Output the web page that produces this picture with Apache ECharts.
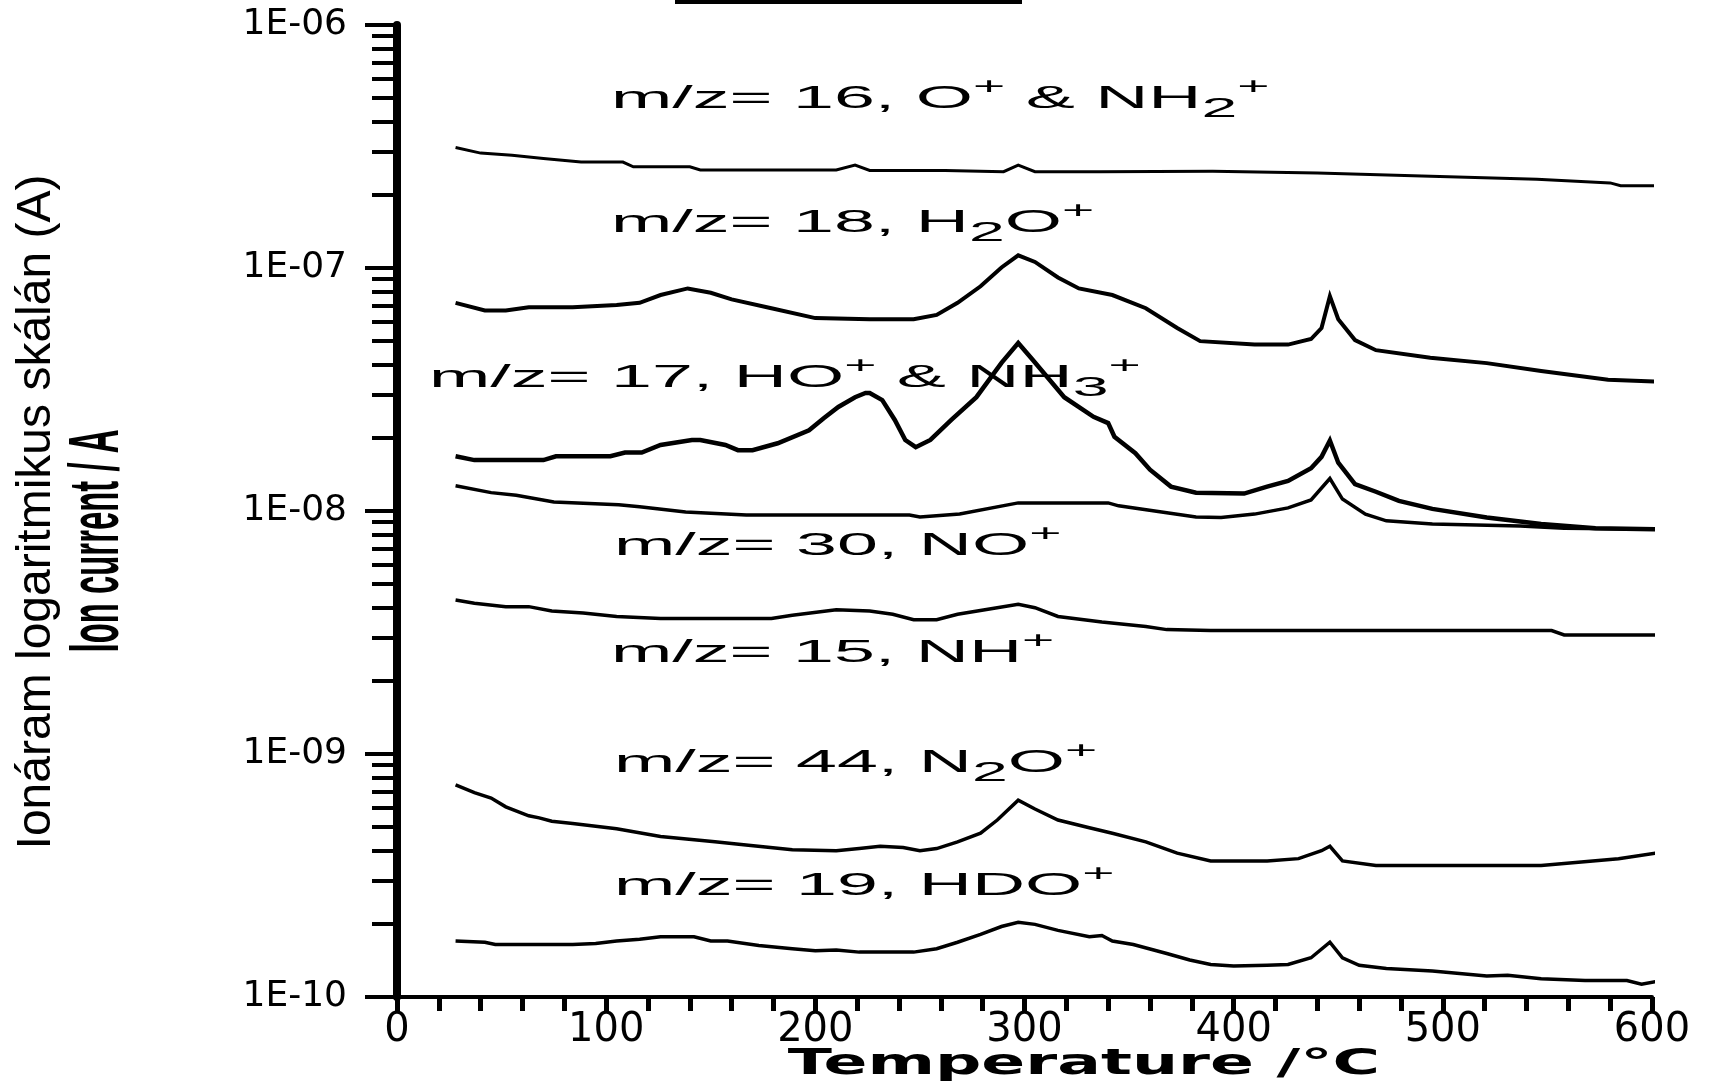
<!DOCTYPE html>
<html><head><meta charset="utf-8">
<script src="https://cdn.jsdelivr.net/npm/echarts@6/dist/echarts.min.js"></script>
<style>html,body{margin:0;padding:0;background:#fff}#c{width:1726px;height:1082px}</style>
</head><body><div id="c"></div>
<script>
// ---- data (temperature in °C, ion current in A) ----
const T16 = [28, 40, 55, 70, 88, 108, 113, 140, 145, 210, 219, 226, 262, 290, 297, 305, 336, 390, 440, 490, 545, 580, 585, 605];
const I16 = [3.13e-7, 2.97e-7, 2.91e-7, 2.82e-7, 2.73e-7, 2.73e-7, 2.61e-7, 2.61e-7, 2.53e-7, 2.53e-7, 2.65e-7, 2.52e-7, 2.52e-7, 2.49e-7, 2.65e-7, 2.49e-7, 2.49e-7, 2.50e-7, 2.46e-7, 2.39e-7, 2.32e-7, 2.24e-7, 2.18e-7, 2.18e-7];

const T18 = [28, 42, 52, 63, 84, 105, 116, 126, 139, 150, 160, 179, 200, 226, 247, 258, 268, 279, 289, 297, 305, 316, 326, 342, 358, 373, 384, 410, 426, 437, 442, 446, 450, 458, 468, 494, 521, 547, 579, 605];
const I18 = [7.19e-8, 6.69e-8, 6.69e-8, 6.90e-8, 6.90e-8, 7.05e-8, 7.19e-8, 7.74e-8, 8.24e-8, 7.91e-8, 7.43e-8, 6.83e-8, 6.22e-8, 6.15e-8, 6.15e-8, 6.41e-8, 7.19e-8, 8.41e-8, 1.005e-7, 1.127e-7, 1.059e-7, 9.14e-8, 8.24e-8, 7.74e-8, 6.83e-8, 5.66e-8, 5.00e-8, 4.84e-8, 4.84e-8, 5.10e-8, 5.66e-8, 7.66e-8, 6.15e-8, 5.05e-8, 4.59e-8, 4.27e-8, 4.06e-8, 3.77e-8, 3.47e-8, 3.40e-8];

const T17 = [28, 37, 70, 76, 102, 109, 117, 126, 141, 145, 157, 163, 170, 182, 197, 204, 211, 219, 224, 226, 232, 238, 243, 248, 255, 265, 277, 289, 297, 304, 319, 333, 340, 343, 353, 360, 370, 382, 405, 416, 426, 437, 442, 446, 450, 458, 468, 479, 495, 521, 547, 573, 605];
const I17 = [1.68e-8, 1.62e-8, 1.62e-8, 1.68e-8, 1.68e-8, 1.74e-8, 1.74e-8, 1.87e-8, 1.96e-8, 1.96e-8, 1.87e-8, 1.78e-8, 1.78e-8, 1.90e-8, 2.15e-8, 2.41e-8, 2.68e-8, 2.94e-8, 3.06e-8, 3.06e-8, 2.86e-8, 2.37e-8, 1.96e-8, 1.83e-8, 1.96e-8, 2.37e-8, 2.94e-8, 4.07e-8, 4.91e-8, 4.18e-8, 2.94e-8, 2.44e-8, 2.30e-8, 2.02e-8, 1.73e-8, 1.48e-8, 1.26e-8, 1.19e-8, 1.18e-8, 1.26e-8, 1.33e-8, 1.50e-8, 1.67e-8, 1.95e-8, 1.58e-8, 1.29e-8, 1.20e-8, 1.10e-8, 1.02e-8, 9.41e-9, 8.85e-9, 8.49e-9, 8.40e-9];

const T30 = [28, 45, 57, 75, 106, 116, 138, 167, 245, 250, 269, 297, 340, 345, 382, 394, 410, 426, 437, 446, 452, 463, 473, 495, 537, 558, 605];
const I30 = [1.27e-8, 1.19e-8, 1.16e-8, 1.09e-8, 1.06e-8, 1.04e-8, 9.91e-9, 9.63e-9, 9.63e-9, 9.45e-9, 9.72e-9, 1.08e-8, 1.08e-8, 1.05e-8, 9.45e-9, 9.40e-9, 9.71e-9, 1.03e-8, 1.11e-8, 1.36e-8, 1.12e-8, 9.71e-9, 9.11e-9, 8.85e-9, 8.67e-9, 8.49e-9, 8.40e-9];

const T15 = [28, 37, 52, 63, 74, 89, 105, 126, 179, 189, 210, 226, 237, 247, 258, 268, 284, 297, 305, 316, 337, 358, 368, 389, 495, 552, 558, 605];
const I15 = [4.30e-9, 4.17e-9, 4.04e-9, 4.04e-9, 3.88e-9, 3.80e-9, 3.68e-9, 3.61e-9, 3.61e-9, 3.72e-9, 3.92e-9, 3.88e-9, 3.76e-9, 3.57e-9, 3.57e-9, 3.76e-9, 3.96e-9, 4.13e-9, 4.00e-9, 3.68e-9, 3.49e-9, 3.35e-9, 3.25e-9, 3.22e-9, 3.22e-9, 3.22e-9, 3.09e-9, 3.09e-9];

const T44 = [28, 37, 45, 52, 63, 68, 74, 84, 105, 126, 152, 168, 189, 210, 221, 231, 242, 250, 258, 268, 279, 287, 297, 305, 316, 331, 342, 358, 373, 389, 416, 431, 442, 446, 452, 468, 547, 584, 605];
const I44 = [7.46e-10, 6.93e-10, 6.59e-10, 6.06e-10, 5.57e-10, 5.46e-10, 5.29e-10, 5.18e-10, 4.92e-10, 4.58e-10, 4.35e-10, 4.21e-10, 4.04e-10, 4.00e-10, 4.08e-10, 4.17e-10, 4.12e-10, 4.00e-10, 4.08e-10, 4.35e-10, 4.72e-10, 5.35e-10, 6.46e-10, 5.94e-10, 5.35e-10, 4.97e-10, 4.72e-10, 4.35e-10, 3.91e-10, 3.63e-10, 3.63e-10, 3.71e-10, 4.00e-10, 4.17e-10, 3.63e-10, 3.48e-10, 3.48e-10, 3.71e-10, 3.95e-10];

const T19 = [28, 42, 47, 84, 95, 105, 116, 126, 142, 150, 158, 173, 189, 200, 210, 221, 247, 258, 268, 279, 289, 297, 305, 316, 331, 337, 342, 352, 368, 379, 389, 400, 416, 426, 437, 446, 452, 460, 473, 495, 521, 531, 547, 568, 588, 595, 605];
const I19 = [1.70e-10, 1.68e-10, 1.645e-10, 1.645e-10, 1.66e-10, 1.70e-10, 1.73e-10, 1.77e-10, 1.77e-10, 1.70e-10, 1.70e-10, 1.63e-10, 1.58e-10, 1.55e-10, 1.56e-10, 1.53e-10, 1.53e-10, 1.58e-10, 1.68e-10, 1.81e-10, 1.95e-10, 2.03e-10, 1.99e-10, 1.88e-10, 1.77e-10, 1.79e-10, 1.70e-10, 1.645e-10, 1.51e-10, 1.42e-10, 1.36e-10, 1.34e-10, 1.35e-10, 1.36e-10, 1.45e-10, 1.68e-10, 1.45e-10, 1.35e-10, 1.31e-10, 1.28e-10, 1.22e-10, 1.23e-10, 1.19e-10, 1.17e-10, 1.17e-10, 1.13e-10, 1.17e-10];

const seriesNames = ['m/z= 16, O⁺ & NH₂⁺', 'm/z= 18, H₂O⁺', 'm/z= 17, HO⁺ & NH₃⁺', 'm/z= 30, NO⁺', 'm/z= 15, NH⁺', 'm/z= 44, N₂O⁺', 'm/z= 19, HDO⁺'];
const seriesLabelRich = [
  '{n|m/z= 16, O}{sp|+}{n| & NH}{sb|2}{sp|+}',
  '{n|m/z= 18, H}{sb|2}{n|O}{sp|+}',
  '{n|m/z= 17, HO}{sp|+}{n| & NH}{sb|3}{sp|+}',
  '{n|m/z= 30, NO}{sp|+}',
  '{n|m/z= 15, NH}{sp|+}',
  '{n|m/z= 44, N}{sb|2}{n|O}{sp|+}',
  '{n|m/z= 19, HDO}{sp|+}'
];
const yTickLabels = ['1E-10', '1E-09', '1E-08', '1E-07', '1E-06'];
const xTitle = 'Temperature /°C';
const yTitle1 = 'Ionáram logaritmikus skálán (A)';
const yTitle2 = 'Ion current / A';

// ---- layout / style ----
const G = {left: 397, top: 25, right: 74, bottom: 85};
const seriesX = [T16, T18, T17, T30, T15, T44, T19];
const seriesY = [I16, I18, I17, I30, I15, I44, I19];
const lineW = [3, 4, 4.5, 3.5, 3.5, 3.5, 3.5];
const labelPos = [[611, 99], [611, 223], [429, 378], [614, 546], [611, 653], [614, 763], [614, 886]];

const minorExp = [];
for (let d = -10; d < -6; d++) for (let k = 2; k <= 9; k++) minorExp.push(d + Math.log10(k));

const rich = {
  n: {fontSize: 32, fontFamily: 'Liberation Sans', lineHeight: 48, fill: '#000'},
  sp: {fontSize: 24, fontFamily: 'Liberation Sans', lineHeight: 14, verticalAlign: 'top', fill: '#000'},
  sb: {fontSize: 28, fontFamily: 'Liberation Sans', lineHeight: 28, verticalAlign: 'bottom', fill: '#000'}
};

const chart = echarts.init(document.getElementById('c'), null, {renderer: 'canvas'});
const option = {
  animation: false,
  backgroundColor: '#fff',
  grid: [
    Object.assign({}, G),
    Object.assign({}, G)
  ],
  xAxis: [
    {
      type: 'value', gridIndex: 0, min: 0, max: 600, interval: 100,
      axisLine: {show: true, lineStyle: {color: '#000', width: 4}},
      axisTick: {show: true, length: 14, lineStyle: {color: '#000', width: 5}},
      minorTick: {show: true, splitNumber: 5, length: 14, lineStyle: {color: '#000', width: 5}},
      axisLabel: {color: '#000', fontSize: 40, fontFamily: 'DejaVu Sans', margin: 14},
      splitLine: {show: false}, minorSplitLine: {show: false}
    },
    {type: 'value', gridIndex: 1, min: 0, max: 600, show: false}
  ],
  yAxis: [
    {
      type: 'log', logBase: 10, gridIndex: 0, min: 1e-10, max: 1e-6,
      axisLine: {show: true, lineStyle: {color: '#000', width: 8}},
      axisTick: {show: true, length: 32, lineStyle: {color: '#000', width: 4}},
      axisLabel: {
        color: '#000', fontSize: 36, fontFamily: 'DejaVu Sans', margin: 50,
        formatter: v => yTickLabels[Math.round(Math.log10(v)) + 10]
      },
      splitLine: {show: false}
    },
    {
      type: 'value', gridIndex: 1, min: -10, max: -6,
      axisLine: {show: false},
      axisTick: {show: true, length: 25, customValues: minorExp, lineStyle: {color: '#000', width: 4}},
      axisLabel: {show: false},
      splitLine: {show: false}
    }
  ],
  series: seriesNames.map((name, i) => ({
    name: name,
    type: 'line',
    xAxisIndex: 0, yAxisIndex: 0,
    showSymbol: false, symbol: 'none',
    lineStyle: {color: '#000', width: lineW[i], join: 'miter'},
    data: seriesX[i].map((t, j) => [t, seriesY[i][j]]),
    z: 3
  })),
  graphic: {
    elements: [
      {type: 'rect', shape: {x: 675, y: 0, width: 347, height: 4}, style: {fill: '#000'}},
      {type: 'text', x: 37, y: 512, rotation: Math.PI / 2,
        style: {text: yTitle1, fontSize: 48, fontFamily: 'Liberation Sans', fill: '#000', align: 'center', verticalAlign: 'middle'}},
      {type: 'text', x: 99, y: 541, rotation: Math.PI / 2, scaleX: 0.47,
        style: {text: yTitle2, fontSize: 70, fontWeight: 'bold', fontFamily: 'Liberation Sans', fill: '#000', align: 'center', verticalAlign: 'middle'}},
      {type: 'text', x: 1084, y: 1065, scaleX: 1.8,
        style: {text: xTitle, fontSize: 36, fontWeight: 'bold', fontFamily: 'DejaVu Sans', fill: '#000', align: 'center', verticalAlign: 'middle'}}
    ].concat(seriesLabelRich.map((s, i) => ({
      type: 'text', x: labelPos[i][0], y: labelPos[i][1], scaleX: 2.3, z: 10,
      style: {text: s, rich: rich, fontSize: 32, fontFamily: 'Liberation Sans', fill: '#000', align: 'left', verticalAlign: 'middle'}
    })))
  }
};
chart.setOption(option);
</script>
</body></html>
